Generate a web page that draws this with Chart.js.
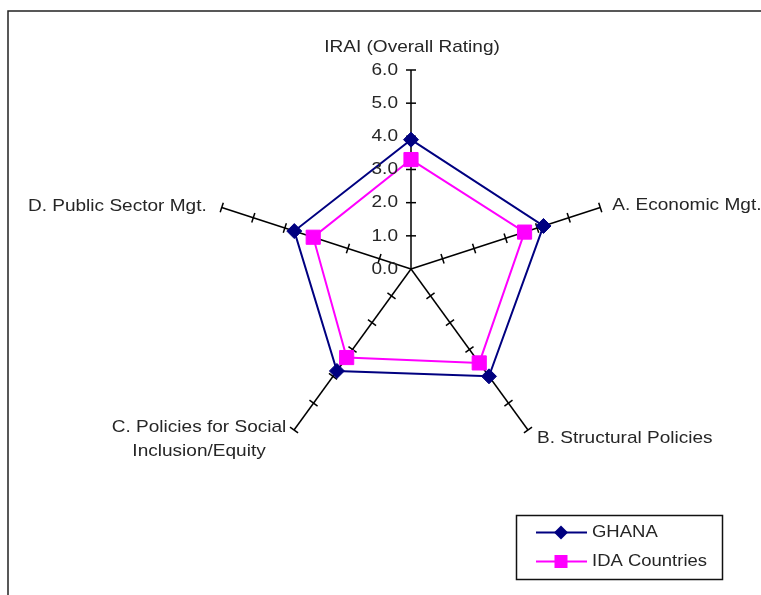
<!DOCTYPE html>
<html>
<head>
<meta charset="utf-8">
<script src="https://cdn.jsdelivr.net/npm/chart.js@4.4.1/dist/chart.umd.min.js"></script>
<style>
  html, body { margin: 0; padding: 0; background: #ffffff; }
  #wrap { width: 761px; height: 595px; position: relative; }
</style>
</head>
<body>
<div id="wrap"><canvas id="c" width="761" height="595"></canvas></div>
<script>
// ---- data ----
const categories = [
  'IRAI (Overall Rating)',
  'A. Economic Mgt.',
  'B. Structural Policies',
  ['C. Policies for Social', 'Inclusion/Equity'],
  'D. Public Sector Mgt.'
];
const ghana = [3.9, 4.2, 4.0, 3.8, 3.7];
const idaCountries = [3.3, 3.6, 3.5, 3.3, 3.1];
const tickValues = [0, 1, 2, 3, 4, 5, 6];
const tickLabels = ['0.0', '1.0', '2.0', '3.0', '4.0', '5.0', '6.0'];
const seriesNames = ['GHANA', 'IDA Countries'];

const NAVY = '#000080';
const MAGENTA = '#FF00FF';
const TEXT = '#262626';
const FONT = '"Liberation Sans", Arial, sans-serif';
const STRETCH = 1.12;

function drawText(ctx, s, x, y, align, size) {
  ctx.save();
  ctx.font = size + 'px ' + FONT;
  ctx.fillStyle = TEXT;
  ctx.textBaseline = 'middle';
  ctx.textAlign = align;
  ctx.translate(x, y);
  ctx.scale(STRETCH, 1);
  ctx.fillText(s, 0, 0);
  ctx.restore();
}

const decorPlugin = {
  id: 'decor',
  beforeDatasetsDraw(chart) {
    const ctx = chart.ctx;
    const sc = chart.scales.r;
    ctx.save();
    ctx.strokeStyle = '#000000';
    ctx.lineWidth = 1.5;
    for (let i = 0; i < categories.length; i++) {
      const a = sc.getIndexAngle(i) - Math.PI / 2;
      const px = -Math.sin(a), py = Math.cos(a);
      tickValues.forEach(v => {
        if (v === 0) return;
        const p = sc.getPointPositionForValue(i, v);
        ctx.beginPath();
        ctx.moveTo(p.x - px * 5, p.y - py * 5);
        ctx.lineTo(p.x + px * 5, p.y + py * 5);
        ctx.stroke();
      });
    }
    ctx.restore();
  },
  afterDraw(chart) {
    const ctx = chart.ctx;
    const sc = chart.scales.r;
    // frame
    ctx.save();
    ctx.strokeStyle = '#222222';
    ctx.lineWidth = 1.5;
    ctx.beginPath();
    ctx.moveTo(8, 595);
    ctx.lineTo(8, 11);
    ctx.lineTo(761, 11);
    ctx.stroke();
    ctx.restore();

    // tick labels on first axis
    tickValues.forEach((v, k) => {
      const p = sc.getPointPositionForValue(0, v);
      drawText(ctx, tickLabels[k], p.x - 13, p.y, 'right', 17);
    });

    // point labels
    const R = sc.drawingArea;
    const ends = categories.map((c, i) => sc.getPointPosition(i, R));
    drawText(ctx, categories[0], ends[0].x + 1, ends[0].y - 23, 'center', 17);
    drawText(ctx, categories[1], ends[1].x + 12, ends[1].y - 2, 'left', 17);
    drawText(ctx, categories[2], ends[2].x + 9, ends[2].y + 8, 'left', 17);
    drawText(ctx, categories[3][0], ends[3].x - 95, ends[3].y - 3, 'center', 17);
    drawText(ctx, categories[3][1], ends[3].x - 95, ends[3].y + 21, 'center', 17);
    drawText(ctx, categories[4], ends[4].x - 15, ends[4].y - 1.5, 'right', 17);

    // legend
    ctx.save();
    ctx.strokeStyle = '#111111';
    ctx.lineWidth = 1.5;
    ctx.strokeRect(516.5, 515.5, 206, 64);
    ctx.strokeStyle = NAVY; ctx.lineWidth = 2;
    ctx.beginPath(); ctx.moveTo(536, 532.5); ctx.lineTo(587, 532.5); ctx.stroke();
    ctx.fillStyle = NAVY;
    ctx.beginPath();
    ctx.moveTo(561 - 7, 532.5); ctx.lineTo(561, 525.5); ctx.lineTo(561 + 7, 532.5); ctx.lineTo(561, 539.5);
    ctx.closePath(); ctx.fill();
    ctx.strokeStyle = MAGENTA;
    ctx.beginPath(); ctx.moveTo(536, 561.5); ctx.lineTo(587, 561.5); ctx.stroke();
    ctx.fillStyle = MAGENTA;
    ctx.fillRect(561 - 6.5, 561.5 - 6.5, 13, 13);
    ctx.restore();
    drawText(ctx, seriesNames[0], 592, 532, 'left', 16.5);
    drawText(ctx, seriesNames[1], 592, 561, 'left', 16.5);
  }
};

new Chart(document.getElementById('c'), {
  type: 'radar',
  data: {
    labels: categories,
    datasets: [
      {
        label: seriesNames[0],
        data: ghana,
        borderColor: NAVY,
        backgroundColor: NAVY,
        borderWidth: 2,
        fill: false,
        pointStyle: 'rectRot',
        pointRadius: 7.5,
        pointBorderWidth: 1,
        pointBackgroundColor: NAVY,
        pointBorderColor: NAVY
      },
      {
        label: seriesNames[1],
        data: idaCountries,
        borderColor: MAGENTA,
        backgroundColor: MAGENTA,
        borderWidth: 2,
        fill: false,
        pointStyle: 'rect',
        pointRadius: 10,
        pointBorderWidth: 1,
        pointBackgroundColor: MAGENTA,
        pointBorderColor: MAGENTA
      }
    ]
  },
  options: {
    responsive: false,
    animation: false,
    devicePixelRatio: 1,
    layout: { padding: { left: 212, right: 151, top: 70, bottom: 127 } },
    elements: { line: { tension: 0 } },
    plugins: { legend: { display: false }, tooltip: { enabled: false } },
    scales: {
      r: {
        min: 0,
        max: 6,
        ticks: { display: false, stepSize: 1 },
        grid: { display: false },
        pointLabels: { display: false },
        angleLines: { display: true, color: '#000000', lineWidth: 1.5 }
      }
    }
  },
  plugins: [decorPlugin]
});
</script>
</body>
</html>
